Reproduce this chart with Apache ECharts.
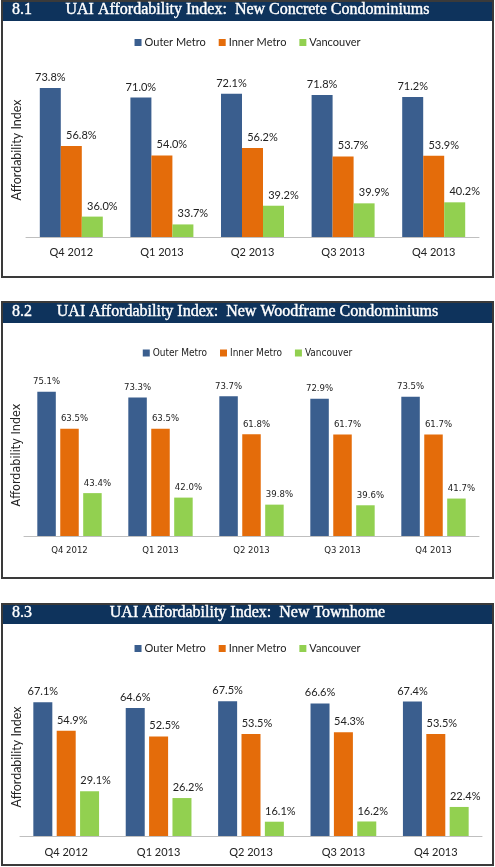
<!DOCTYPE html>
<html>
<head>
<meta charset="utf-8">
<script src="https://cdn.jsdelivr.net/npm/echarts@6/dist/echarts.min.js"></script>
<style>
html,body{margin:0;padding:0;background:#fff;}
#chart{width:495px;height:867px;}
</style>
</head>
<body>
<div id="chart"></div>
<script>
const categories = ['Q4 2012', 'Q1 2013', 'Q2 2013', 'Q3 2013', 'Q4 2013'];
const seriesNames = ['Outer Metro', 'Inner Metro', 'Vancouver'];
const titles = [
  ['8.1', 'UAI Affordability Index:  New Concrete Condominiums'],
  ['8.2', 'UAI Affordability Index:  New Woodframe Condominiums'],
  ['8.3', 'UAI Affordability Index:  New Townhome']
];
const yAxisTitle = 'Affordability Index';
// 8.1 New Concrete Condominiums
const concreteOuter = [73.8, 71.0, 72.1, 71.8, 71.2];
const concreteInner = [56.8, 54.0, 56.2, 53.7, 53.9];
const concreteVan = [36.0, 33.7, 39.2, 39.9, 40.2];
// 8.2 New Woodframe Condominiums
const woodOuter = [75.1, 73.3, 73.7, 72.9, 73.5];
const woodInner = [63.5, 63.5, 61.8, 61.7, 61.7];
const woodVan = [43.4, 42.0, 39.8, 39.6, 41.7];
// 8.3 New Townhome
const townOuter = [67.1, 64.6, 67.5, 66.6, 67.4];
const townInner = [54.9, 52.5, 53.5, 54.3, 53.5];
const townVan = [29.1, 26.2, 16.1, 16.2, 22.4];

const colors = ['#3A5E8E', '#E46C0A', '#92D050'];
const navy = '#0E335C';
const sansA = 'Lato, "Open Sans", sans-serif';
const sansB = '"DejaVu Sans Condensed", "DejaVu Sans", sans-serif';

const panels = [
  {data: [concreteOuter, concreteInner, concreteVan], font: sansA, fs: 11, lfs: 11,
   grid: {left: 26, right: 16, top: 67, height: 170}, min: 30, max: 80,
   barWidth: 21, barGap: '0%', off: 10, legendTop: 32, labelMargin: 10,
   box: [1, 276], bar: [2, 19], titleTop: 2, yTitleY: 150},
  {data: [woodOuter, woodInner, woodVan], font: sansB, fs: 9.5, lfs: 10,
   grid: {left: 24, right: 16, top: 376, height: 160}, min: 30, max: 80,
   barWidth: 18.5, barGap: '24%', off: 5, legendTop: 343, labelMargin: 10,
   box: [302, 276], bar: [303, 20], titleTop: 304, yTitleY: 455},
  {data: [townOuter, townInner, townVan], font: sansA, fs: 11, lfs: 11,
   grid: {left: 20, right: 13, top: 672, height: 164}, min: 10, max: 80,
   barWidth: 19, barGap: '23%', off: 6, legendTop: 638, labelMargin: 11,
   box: [604, 261], bar: [605, 19], titleTop: 605, yTitleY: 757}
];

const option = {
  animation: false,
  backgroundColor: '#fff',
  color: colors,
  title: [], legend: [], grid: [], xAxis: [], yAxis: [], series: [], graphic: []
};

panels.forEach((p, i) => {
  option.graphic.push({
    type: 'rect', z: 0, shape: {x: 2, y: p.box[0], width: 491, height: p.box[1]},
    style: {fill: '#fff', stroke: '#3a3a3a', lineWidth: 2}, silent: true
  });
  option.graphic.push({
    type: 'rect', z: 1, shape: {x: 3, y: p.bar[0], width: 489, height: p.bar[1]},
    style: {fill: navy}, silent: true
  });
  option.graphic.push({
    type: 'text', z: 5, x: 17, y: p.yTitleY, rotation: Math.PI / 2,
    style: {text: yAxisTitle, fill: '#222', font: '12.5px ' + p.font, align: 'center', verticalAlign: 'middle'},
    silent: true
  });
  const ts = {color: '#fff', fontFamily: '"Liberation Serif", serif', fontSize: 16, fontWeight: 'normal',
              textBorderColor: '#fff', textBorderWidth: 0.4};
  option.title.push({text: titles[i][0], left: 12, top: p.titleTop, padding: 0, z: 10, textStyle: ts});
  option.title.push({text: titles[i][1], left: 'center', top: p.titleTop, padding: 0, z: 10, textStyle: ts});
  option.legend.push({
    data: seriesNames, top: p.legendTop, left: 'center', icon: 'rect',
    itemWidth: 7, itemHeight: 7, itemGap: 13, selectedMode: false,
    textStyle: {fontFamily: p.font, fontSize: p.lfs, color: '#222', padding: [0, 0, 0, -2]}
  });
  option.grid.push(Object.assign({containLabel: false}, p.grid));
  option.xAxis.push({
    type: 'category', gridIndex: i, data: categories,
    axisLine: {lineStyle: {color: '#BFBFBF', width: 1}},
    axisTick: {show: false},
    axisLabel: {fontFamily: p.font, fontSize: p.fs, color: '#222', margin: p.labelMargin}
  });
  option.yAxis.push({
    type: 'value', gridIndex: i, min: p.min, max: p.max, interval: 10,
    axisLine: {show: false}, axisTick: {show: false}, axisLabel: {show: false}, splitLine: {show: false}
  });
  p.data.forEach((arr, k) => {
    option.series.push({
      type: 'bar', name: seriesNames[k], xAxisIndex: i, yAxisIndex: i, data: arr,
      barWidth: p.barWidth, barGap: p.barGap,
      itemStyle: {color: colors[k]},
      label: {
        show: true, position: 'top', distance: 5, offset: [k === 0 ? 0 : p.off, 0],
        fontFamily: p.font, fontSize: p.fs, color: '#222',
        formatter: (q) => q.value.toFixed(1) + '%'
      }
    });
  });
});

const chart = echarts.init(document.getElementById('chart'));
chart.setOption(option);
</script>
</body>
</html>
